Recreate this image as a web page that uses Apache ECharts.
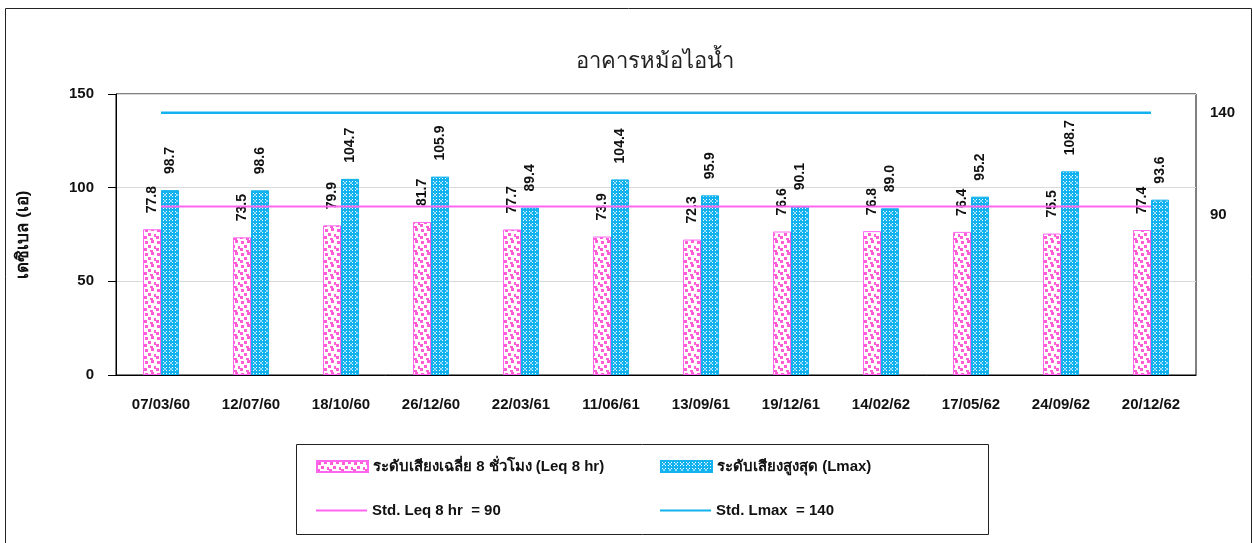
<!DOCTYPE html>
<html>
<head>
<meta charset="utf-8">
<script src="https://cdn.jsdelivr.net/npm/echarts@6/dist/echarts.min.js"></script>
<style>
html,body{margin:0;padding:0;background:#fff;}
#chart{width:1253px;height:543px;}
</style>
</head>
<body>
<div id="chart"></div>
<script>
const categories = ['07/03/60','12/07/60','18/10/60','26/12/60','22/03/61','11/06/61','13/09/61','19/12/61','14/02/62','17/05/62','24/09/62','20/12/62'];
const leqValues = [77.8,73.5,79.9,81.7,77.7,73.9,72.3,76.6,76.8,76.4,75.5,77.4];
const lmaxValues = [98.7,98.6,104.7,105.9,89.4,104.4,95.9,90.1,89.0,95.2,108.7,93.6];
const stdLeq = 90;
const stdLmax = 140;
const leftTicks = [0,50,100,150];
const rightTicks = [90,140];
const titleText = 'อาคารหม้อไอน้ำ';
const yName = 'เดซิเบล (เอ)';
const names = ['ระดับเสียงเฉลี่ย 8 ชั่วโมง (Leq 8 hr)','ระดับเสียงสูงสุด (Lmax)','Std. Leq 8 hr  = 90','Std. Lmax  = 140'];

const FONT = '"Liberation Sans", Arial, sans-serif';
const PINK = '#FF5CD6';
const PINKLINE = '#FF66F0';
const BLUE = '#12B2EE';

function pinkPattern(){
  const c = document.createElement('canvas'); c.width = 12; c.height = 12;
  const g = c.getContext('2d');
  g.fillStyle = '#fff'; g.fillRect(0,0,12,12);
  g.fillStyle = PINK;
  [[1,1],[7,0],[4,5],[10,6],[0,8],[6,10]].forEach(p=>g.fillRect(p[0],p[1],3,3));
  return c;
}
function bluePattern(){
  const c = document.createElement('canvas'); c.width = 6; c.height = 6;
  const g = c.getContext('2d');
  g.fillStyle = BLUE; g.fillRect(0,0,6,6);
  g.fillStyle = '#fff';
  [[1,1],[4,1],[1,4],[4,4]].forEach(p=>g.fillRect(p[0],p[1],1,1));
  g.fillStyle = 'rgba(255,255,255,0.55)';
  g.fillRect(2,2,2,2);
  return c;
}

const stdLeqArr = categories.map(()=>stdLeq);
const stdLmaxArr = categories.map(()=>stdLmax);

const labelCfg = {
  show: true, position: 'top', rotate: 90, align: 'left', verticalAlign: 'middle',
  distance: 16, fontFamily: FONT, fontWeight: 'bold', fontSize: 14, color: '#111',
  formatter: p => Number(p.value).toFixed(1)
};
const legendText = {fontFamily: FONT, fontWeight:'bold', fontSize: 15, color:'#111'};

const chart = echarts.init(document.getElementById('chart'));
chart.setOption({
  animation: false,
  backgroundColor: '#fff',
  title: {
    text: titleText, left: 650, top: 46, textAlign: 'center',
    textStyle: {fontFamily: FONT, fontSize: 22, fontWeight: 'normal', color: '#222'}
  },
  grid: {left: 116, right: 57, top: 94, bottom: 168, show: true, borderColor: '#000', borderWidth: 1, backgroundColor: 'transparent'},
  legend: [
    {data:[{name: names[0], icon: 'rect'}], left: 311, top: 454, itemWidth: 51, itemHeight: 11, itemGap: 5, textStyle: legendText},
    {data:[{name: names[1], icon: 'rect'}], left: 655, top: 454, itemWidth: 51, itemHeight: 11, itemGap: 5, textStyle: legendText},
    {data:[{name: names[2], icon: 'rect'}], left: 311, top: 498, itemWidth: 51, itemHeight: 2, itemGap: 5, textStyle: legendText},
    {data:[{name: names[3], icon: 'rect'}], left: 655, top: 498, itemWidth: 51, itemHeight: 2, itemGap: 5, textStyle: legendText}
  ],
  graphic: [
    {type:'rect', shape:{x:5.5, y:8.5, width:1246, height:560}, style:{fill:'none', stroke:'#222', lineWidth:1}, silent:true, z:-1},
    {type:'rect', shape:{x:296.5, y:444.5, width:692, height:90}, style:{fill:'none', stroke:'#222', lineWidth:1}, silent:true, z:-1}
  ],
  xAxis: {
    type: 'category', data: categories, boundaryGap: true,
    axisLine: {show: true, lineStyle: {color:'#000', width: 1}},
    axisTick: {show: false},
    axisLabel: {fontFamily: FONT, fontWeight:'bold', fontSize: 15, color:'#111', margin: 22, interval: 0}
  },
  yAxis: [
    {
      type: 'value', min: 0, max: 150, interval: 50,
      name: yName, nameLocation: 'middle', nameGap: 84, nameRotate: 90,
      nameTextStyle: {fontFamily: FONT, fontWeight:'bold', fontSize: 17, color:'#111'},
      axisLine: {show: true, lineStyle: {color:'#000'}},
      axisTick: {show: true, inside: false, length: 8, lineStyle:{color:'#000'}},
      axisLabel: {fontFamily: FONT, fontWeight:'bold', fontSize: 15, color:'#111', margin: 22,
        formatter: v => leftTicks.includes(v) ? String(v) : ''},
      splitLine: {show: true, lineStyle: {color:'#d9d9d9', width: 1}}
    },
    {
      type: 'value', min: 0, max: 150, interval: 10, position: 'right',
      axisLine: {show: false}, axisTick: {show: false}, splitLine: {show: false},
      axisLabel: {fontFamily: FONT, fontWeight:'bold', fontSize: 15, color:'#111', margin: 14,
        formatter: v => v === rightTicks[0] ? '{low|' + v + '}' : (rightTicks.includes(v) ? String(v) : ''),
        rich: {low: {fontFamily: FONT, fontWeight:'bold', fontSize: 15, color:'#111', padding: [16,0,0,0]}}}
    }
  ],
  series: [
    {
      name: names[0], type: 'bar', data: leqValues, barWidth: 18, barGap: '0%',
      itemStyle: {color: {image: pinkPattern(), repeat: 'repeat'}, borderColor: PINKLINE, borderWidth: 1},
      label: labelCfg, z: 2
    },
    {
      name: names[1], type: 'bar', data: lmaxValues, barWidth: 18, barGap: '0%',
      itemStyle: {color: {image: bluePattern(), repeat: 'repeat'}, borderColor: BLUE, borderWidth: 1},
      label: labelCfg, z: 2
    },
    {
      name: names[2], type: 'line', data: stdLeqArr, symbol: 'none',
      lineStyle: {color: PINKLINE, width: 2}, itemStyle:{color: PINKLINE}, z: 3
    },
    {
      name: names[3], type: 'line', data: stdLmaxArr, symbol: 'none',
      lineStyle: {color: BLUE, width: 2.5}, itemStyle:{color: BLUE}, z: 3
    }
  ]
});
</script>
</body>
</html>
